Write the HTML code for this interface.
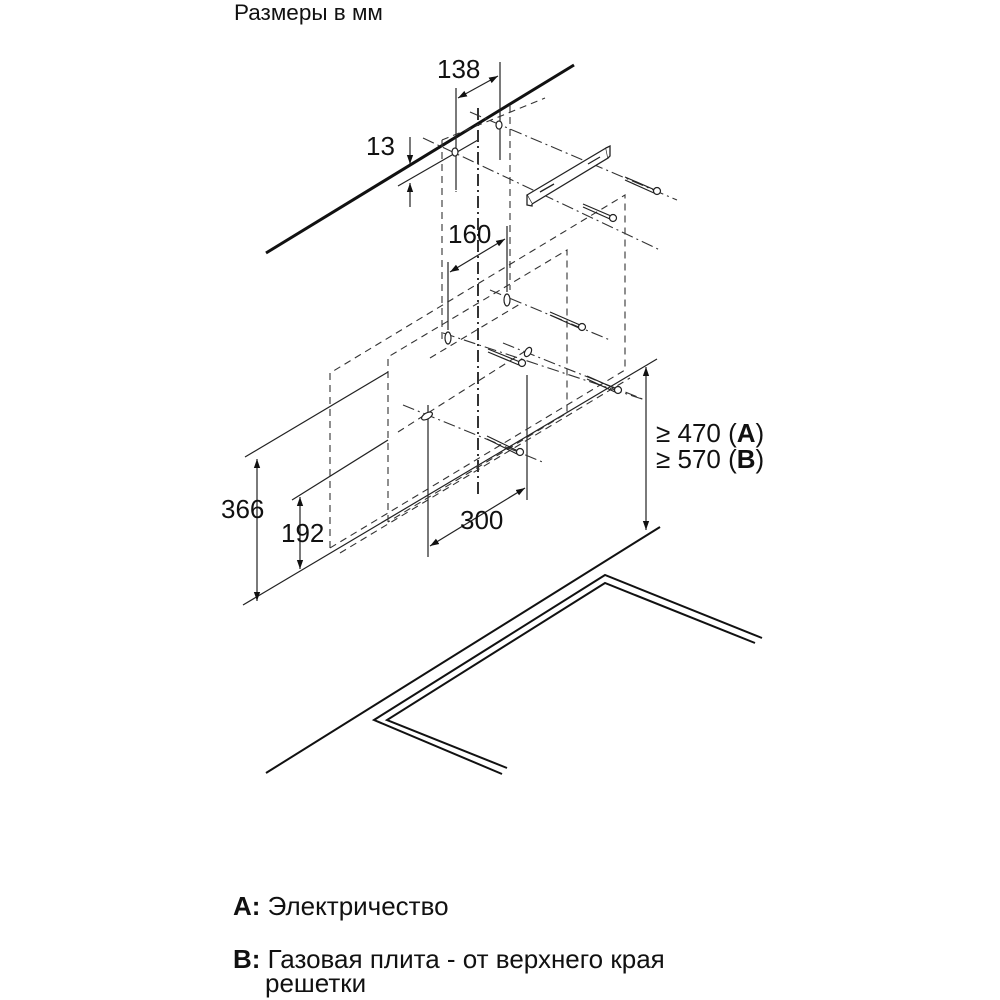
<!DOCTYPE html>
<html><head><meta charset="utf-8"><style>
html,body{margin:0;padding:0;background:#fff}
svg{display:block}
text{font-family:"Liberation Sans",sans-serif;fill:#111}
</style></head><body>
<svg width="1000" height="1000" viewBox="0 0 1000 1000" xmlns="http://www.w3.org/2000/svg">
<defs>
<marker id="a" viewBox="0 0 10 10" refX="10" refY="5" markerWidth="9" markerHeight="9" orient="auto-start-reverse" markerUnits="userSpaceOnUse"><path d="M0,1.5 L10,5 L0,8.5 z" fill="#111"/></marker>
</defs>
<text x="234" y="20" font-size="22.5">Размеры в мм</text>

<line x1="266" y1="253" x2="574" y2="65" stroke="#111" stroke-width="3"/>

<g stroke="#222" stroke-width="1.2" fill="none">
<line x1="456" y1="88" x2="456" y2="190"/>
<line x1="500" y1="62" x2="500" y2="160"/>
<line x1="458" y1="98" x2="498" y2="76" marker-start="url(#a)" marker-end="url(#a)"/>
<line x1="410" y1="137" x2="410" y2="164" marker-end="url(#a)"/>
<line x1="410" y1="207" x2="410" y2="183" marker-end="url(#a)"/>
<line x1="398" y1="186" x2="478" y2="140"/>
<line x1="448" y1="262" x2="448" y2="330"/>
<line x1="507" y1="226" x2="507" y2="292"/>
<line x1="450" y1="272" x2="505" y2="239" marker-start="url(#a)" marker-end="url(#a)"/>
<line x1="243" y1="605" x2="657" y2="359"/>
<line x1="245" y1="457" x2="388" y2="372"/>
<line x1="257" y1="459" x2="257" y2="601" marker-start="url(#a)" marker-end="url(#a)"/>
<line x1="292" y1="500" x2="388" y2="440"/>
<line x1="300" y1="497" x2="300" y2="569" marker-start="url(#a)" marker-end="url(#a)"/>
<line x1="428" y1="405" x2="428" y2="557"/>
<line x1="527" y1="375" x2="527" y2="500"/>
<line x1="430" y1="546" x2="525" y2="488" marker-start="url(#a)" marker-end="url(#a)"/>
<line x1="646" y1="367" x2="646" y2="530" marker-start="url(#a)" marker-end="url(#a)"/>
</g>

<g stroke="#333" stroke-width="1.1" fill="none" stroke-dasharray="7,5">
<polyline points="330,548 330,373 625,195 625,370 330,548"/>
<polyline points="388,522 388,357 567,250 567,413 388,522"/>
<line x1="340" y1="553" x2="630" y2="378"/>
<line x1="442" y1="140" x2="442" y2="340"/>
<line x1="510" y1="105" x2="510" y2="290"/>
<line x1="456" y1="155" x2="456" y2="192"/>
<line x1="500" y1="128" x2="500" y2="160"/>
<line x1="442" y1="140" x2="545" y2="98"/>
<line x1="430" y1="358" x2="520" y2="304"/>
<line x1="398" y1="432" x2="527" y2="350"/>
</g>
<g stroke="#333" stroke-width="1.1" fill="none" stroke-dasharray="12,4,2,4">
<line x1="478" y1="108" x2="478" y2="497" stroke-width="2"/>
<line x1="423" y1="138" x2="660" y2="250"/>
<line x1="470" y1="112" x2="677" y2="200"/>
<line x1="490" y1="290" x2="610" y2="340"/>
<line x1="443" y1="333" x2="645" y2="400"/>
<line x1="403" y1="405" x2="545" y2="463"/>
<line x1="503" y1="343" x2="645" y2="400"/>
</g>

<g stroke="#222" stroke-width="1.2" fill="#fff">
<ellipse cx="455" cy="152" rx="3" ry="4"/>
<ellipse cx="499" cy="125" rx="3" ry="4"/>
<ellipse cx="507" cy="300" rx="3" ry="6"/>
<ellipse cx="448" cy="338" rx="3" ry="6"/>
<ellipse cx="528" cy="352" rx="3" ry="5" transform="rotate(30 528 352)"/>
<ellipse cx="427" cy="416" rx="3" ry="6" transform="rotate(60 427 416)"/>
</g>

<g stroke="#222" stroke-width="1.3" fill="#fff">
<path d="M527,195 L606,148 L608,158 L532,204 Z"/>
<path d="M527,195 L527,205 L532,206 L532,204"/>
<path d="M606,148 L610,146 L610,156 L608,158"/>
<line x1="540" y1="192" x2="554" y2="184"/>
<line x1="588" y1="164" x2="600" y2="157"/>
</g>

<g stroke="#222" stroke-width="1.2" fill="#fff">
<g><line x1="625" y1="177" x2="655" y2="190"/><line x1="625" y1="180" x2="654" y2="193"/><circle cx="657" cy="191" r="3.5"/></g>
<g><line x1="583" y1="204" x2="611" y2="216"/><line x1="583" y1="207" x2="610" y2="219"/><circle cx="613" cy="218" r="3.5"/></g>
<g><line x1="550" y1="312" x2="580" y2="325"/><line x1="550" y1="315" x2="579" y2="328"/><circle cx="582" cy="327" r="3.5"/></g>
<g><line x1="488" y1="349" x2="520" y2="362"/><line x1="488" y1="352" x2="519" y2="365"/><circle cx="522" cy="363" r="3.5"/></g>
<g><line x1="587" y1="376" x2="616" y2="389"/><line x1="587" y1="379" x2="615" y2="392"/><circle cx="618" cy="390" r="3.5"/></g>
<g><line x1="487" y1="436" x2="518" y2="451"/><line x1="487" y1="439" x2="517" y2="454"/><circle cx="520" cy="452" r="3.5"/></g>
</g>

<g stroke="#111" stroke-width="2" fill="none">
<line x1="266" y1="773" x2="660" y2="527"/>
<polyline points="502,774 374,720 605,575 762,638"/>
<polyline points="507,768 387,720 605,583 755,643"/>
</g>

<g font-size="26">
<text x="437" y="78">138</text>
<text x="366" y="155">13</text>
<text x="448" y="243">160</text>
<text x="221" y="518">366</text>
<text x="281" y="542">192</text>
<text x="460" y="529">300</text>
<text x="656" y="442">≥ 470 (<tspan font-weight="bold">A</tspan>)</text>
<text x="656" y="468">≥ 570 (<tspan font-weight="bold">B</tspan>)</text>
<text x="233" y="915"><tspan font-weight="bold">A:</tspan> Электричество</text>
<text x="233" y="968"><tspan font-weight="bold">B:</tspan> Газовая плита - от верхнего края</text>
<text x="265" y="992">решетки</text>
</g>
</svg>
</body></html>
